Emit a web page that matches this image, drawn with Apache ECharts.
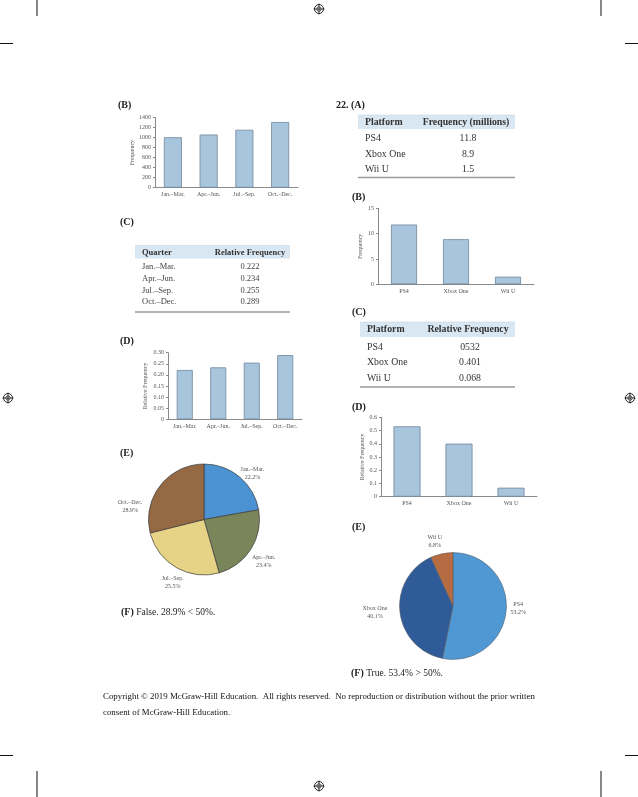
<!DOCTYPE html>
<html><head><meta charset="utf-8">
<script src="https://cdn.jsdelivr.net/npm/echarts@6/dist/echarts.min.js"></script>
<style>html,body{margin:0;padding:0;background:#fff}#c{width:638px;height:797px}</style>
</head><body><div id="c"></div>
<script>
// ---- data ----
const quarters = ['Jan.–Mar.', 'Apr.–Jun.', 'Jul.–Sep.', 'Oct.–Dec.'];
const quarterFreq = [1006, 1060, 1155, 1309];
const quarterRelFreq = [0.222, 0.234, 0.255, 0.289];
const quarterRelFreqText = ['0.222', '0.234', '0.255', '0.289'];
const quarterPct = [22.2, 23.4, 25.5, 28.9];
const platforms = ['PS4', 'Xbox One', 'Wii U'];
const platformFreq = [11.8, 8.9, 1.5];
const platformFreqText = ['11.8', '8.9', '1.5'];
const platformRelFreq = [0.532, 0.401, 0.068];
const platformRelFreqText = ['0532', '0.401', '0.068'];
const platformPct = [53.2, 40.1, 6.8];
const quarterPieColors = ['#4b92d2', '#7a865a', '#e7d386', '#946943'];
const platformPieColors = ['#4f98d4', '#2f5b98', '#b56c42'];

const FF = '"Liberation Serif", "DejaVu Serif", serif';
const chart = echarts.init(document.getElementById('c'), null, {renderer: 'canvas'});

function axisCommon(extra) {
  return Object.assign({
    axisLine: {show: true, lineStyle: {color: '#8a8a8a', width: 1}},
    axisTick: {show: true, length: 2, lineStyle: {color: '#8a8a8a'}},
    axisLabel: {fontFamily: FF, fontSize: 6, color: '#555', margin: 4},
    splitLine: {show: false},
    nameTextStyle: {fontFamily: FF, fontSize: 6, color: '#555'}
  }, extra);
}
function catAxis(grid, data) {
  return {
    type: 'category', gridIndex: grid, data: data,
    axisLine: {show: true, lineStyle: {color: '#8a8a8a', width: 1}},
    axisTick: {show: false},
    axisLabel: {fontFamily: FF, fontSize: 6, color: '#555', margin: 4, interval: 0},
  };
}
const barStyle = {color: '#a8c5de', borderColor: '#6f879c', borderWidth: 0.8};

// ---- graphic helpers ----
const G = [];
function txt(x, y, s, size, opts) {
  opts = opts || {};
  G.push({type: 'text', silent: true, style: Object.assign({
    x: x, y: y, text: s, fill: opts.fill || '#222',
    font: (opts.bold ? 'bold ' : '') + size + 'px ' + FF,
    textAlign: opts.align || 'left', textVerticalAlign: 'middle'
  }, opts.rich ? {rich: opts.rich} : {})});
}
function rect(x, y, w, h, fill) {
  G.push({type: 'rect', silent: true, shape: {x: x, y: y, width: w, height: h}, style: {fill: fill}});
}
function line(x1, y1, x2, y2, color, w) {
  G.push({type: 'line', silent: true, shape: {x1: x1, y1: y1, x2: x2, y2: y2}, style: {stroke: color, lineWidth: w}});
}
function regMark(cx, cy) {
  G.push({type: 'circle', silent: true, shape: {cx: cx, cy: cy, r: 4.5}, style: {fill: 'none', stroke: '#111', lineWidth: 0.9}});
  G.push({type: 'circle', silent: true, shape: {cx: cx, cy: cy, r: 2.2}, style: {fill: 'none', stroke: '#111', lineWidth: 0.7}});
  line(cx - 5.5, cy, cx + 5.5, cy, '#111', 0.8);
  line(cx, cy - 5.5, cx, cy + 5.5, '#111', 0.8);
}

// crop / registration marks
line(37, 0, 37, 16, '#111', 1); line(601, 0, 601, 16, '#111', 1);
line(0, 43.5, 13, 43.5, '#111', 1); line(625, 43.5, 638, 43.5, '#111', 1);
line(0, 755.5, 13, 755.5, '#111', 1); line(625, 755.5, 638, 755.5, '#111', 1);
line(37, 771, 37, 797, '#111', 1); line(601, 771, 601, 797, '#111', 1);
regMark(319, 9); regMark(319, 786); regMark(8, 398); regMark(630, 398);

// section labels
txt(118, 105, '(B)', 10, {bold: true});
txt(120, 222, '(C)', 10, {bold: true});
txt(120, 341, '(D)', 10, {bold: true});
txt(120, 453, '(E)', 10, {bold: true});
const richF = {
  b: {fontWeight: 'bold', fontFamily: FF, fontSize: 10, fill: '#222', color: '#222'},
  n: {fontWeight: 'normal', fontFamily: FF, fontSize: 9.5, fill: '#222', color: '#222'}
};
txt(121, 612, '{b|(F)}{n| False. 28.9% < 50%.}', 9.5, {rich: richF});
txt(336, 105, '22. (A)', 10, {bold: true});
txt(352, 197, '(B)', 10, {bold: true});
txt(352, 312, '(C)', 10, {bold: true});
txt(352, 407, '(D)', 10, {bold: true});
txt(352, 527, '(E)', 10, {bold: true});
txt(351, 673, '{b|(F)}{n| True. 53.4% > 50%.}', 9.5, {rich: richF});

// left table (C)
rect(135, 245.5, 155, 13, '#d9e7f2');
line(135, 245.5, 290, 245.5, '#c4d6e4', 0.6);
txt(142, 252.5, 'Quarter', 8.5, {bold: true, fill: '#333'});
txt(250, 252.5, 'Relative Frequency', 8.5, {bold: true, fill: '#333', align: 'center'});
const lRowY = [267, 279, 290.5, 302];
quarters.forEach((q, i) => {
  txt(142, lRowY[i], q, 8.5, {fill: '#444'});
  txt(250, lRowY[i], quarterRelFreqText[i], 8.5, {fill: '#444', align: 'center'});
});
line(135, 312, 290, 312, '#9a9a9a', 1.4);

// right table (A)
rect(358, 115, 157, 14, '#d9e7f2');
line(358, 115, 515, 115, '#c4d6e4', 0.6);
txt(365, 122, 'Platform', 9.8, {bold: true, fill: '#333'});
txt(466, 122, 'Frequency (millions)', 9.8, {bold: true, fill: '#333', align: 'center'});
const aRowY = [138.5, 154, 169];
platforms.forEach((p, i) => {
  txt(365, aRowY[i], p, 9.8, {fill: '#333'});
  txt(468, aRowY[i], platformFreqText[i], 9.8, {fill: '#333', align: 'center'});
});
line(358, 177.5, 515, 177.5, '#9a9a9a', 1.5);

// right table (C)
rect(360, 322, 155, 15, '#d9e7f2');
line(360, 322, 515, 322, '#c4d6e4', 0.6);
txt(367, 329.5, 'Platform', 9.8, {bold: true, fill: '#333'});
txt(468, 329.5, 'Relative Frequency', 9.8, {bold: true, fill: '#333', align: 'center'});
const cRowY = [347, 362.5, 378];
platforms.forEach((p, i) => {
  txt(367, cRowY[i], p, 9.8, {fill: '#333'});
  txt(470, cRowY[i], platformRelFreqText[i], 9.8, {fill: '#333', align: 'center'});
});
line(360, 387, 515, 387, '#9a9a9a', 1.5);

// copyright
txt(103, 697, 'Copyright © 2019 McGraw-Hill Education.  All rights reserved.  No reproduction or distribution without the prior written', 8.85, {fill: '#111'});
txt(103, 713, 'consent of McGraw-Hill Education.', 8.85, {fill: '#111'});

// small label nudges (pixel offsets from the library's outside-label position)
const quarterLabelNudge = [[2, 3], [0, 8], [6, 7], [-18, 27]];
const platformLabelNudge = [[-2, -4], [-11, -1], [0, -3]];
function pieLabelLayout(nudge) {
  return function (p) {
    const n = nudge[p.dataIndex] || [0, 0];
    return {align: 'center', verticalAlign: 'middle', dx: n[0], dy: n[1]};
  };
}

const option = {
  animation: false,
  backgroundColor: '#fff',
  grid: [
    {left: 155, top: 117.5, width: 143, height: 70.2},
    {left: 168, top: 352.7, width: 134, height: 66.6},
    {left: 378, top: 208.3, width: 156, height: 76},
    {left: 381, top: 417.3, width: 156, height: 79.4}
  ],
  xAxis: [catAxis(0, quarters), catAxis(1, quarters), catAxis(2, platforms), catAxis(3, platforms)],
  yAxis: [
    axisCommon({type: 'value', gridIndex: 0, min: 0, max: 1400, interval: 200, name: 'Frequency', nameLocation: 'middle', nameGap: 20,
      axisLabel: {fontFamily: FF, fontSize: 6, color: '#555', margin: 4, formatter: v => String(v)}}),
    axisCommon({type: 'value', gridIndex: 1, min: 0, max: 0.30, interval: 0.05, name: 'Relative Frequency', nameLocation: 'middle', nameGap: 20,
      axisLabel: {fontFamily: FF, fontSize: 6, color: '#555', margin: 4, formatter: v => v === 0 ? '0' : v.toFixed(2)}}),
    axisCommon({type: 'value', gridIndex: 2, min: 0, max: 15, interval: 5, name: 'Frequency', nameLocation: 'middle', nameGap: 15}),
    axisCommon({type: 'value', gridIndex: 3, min: 0, max: 0.6, interval: 0.1, name: 'Relative Frequency', nameLocation: 'middle', nameGap: 16,
      axisLabel: {fontFamily: FF, fontSize: 6, color: '#555', margin: 4, formatter: v => v === 0 ? '0' : v.toFixed(1)}})
  ],
  series: [
    {type: 'bar', xAxisIndex: 0, yAxisIndex: 0, data: quarterFreq, barWidth: 18, itemStyle: barStyle},
    {type: 'bar', xAxisIndex: 1, yAxisIndex: 1, data: quarterRelFreq, barWidth: 16, itemStyle: barStyle},
    {type: 'bar', xAxisIndex: 2, yAxisIndex: 2, data: platformFreq, barWidth: 26, itemStyle: barStyle},
    {type: 'bar', xAxisIndex: 3, yAxisIndex: 3, data: platformRelFreq, barWidth: 27, itemStyle: barStyle},
    {
      type: 'pie', center: [204, 519.5], radius: 55.5, startAngle: 90, clockwise: true,
      data: quarters.map((q, i) => ({name: q, value: quarterPct[i], itemStyle: {color: quarterPieColors[i]}})),
      itemStyle: {borderColor: '#3c3c3c', borderWidth: 0.7},
      label: {show: true, position: 'outside', fontFamily: FF, fontSize: 6, color: '#555', lineHeight: 8,
        formatter: p => p.name + '\n' + p.value.toFixed(1) + '%'},
      labelLine: {show: false, length: 9, length2: 0},
      labelLayout: pieLabelLayout(quarterLabelNudge)
    },
    {
      type: 'pie', center: [453, 606], radius: 53.5, startAngle: 90, clockwise: true,
      data: platforms.map((q, i) => ({name: q, value: platformPct[i], itemStyle: {color: platformPieColors[i]}})),
      itemStyle: {borderColor: '#5a5a5a', borderWidth: 0.5},
      label: {show: true, position: 'outside', fontFamily: FF, fontSize: 6, color: '#555', lineHeight: 8,
        formatter: p => p.name + '\n' + p.value.toFixed(1) + '%'},
      labelLine: {show: false, length: 9, length2: 0},
      labelLayout: pieLabelLayout(platformLabelNudge)
    }
  ],
  graphic: G
};
chart.setOption(option);
</script></body></html>
